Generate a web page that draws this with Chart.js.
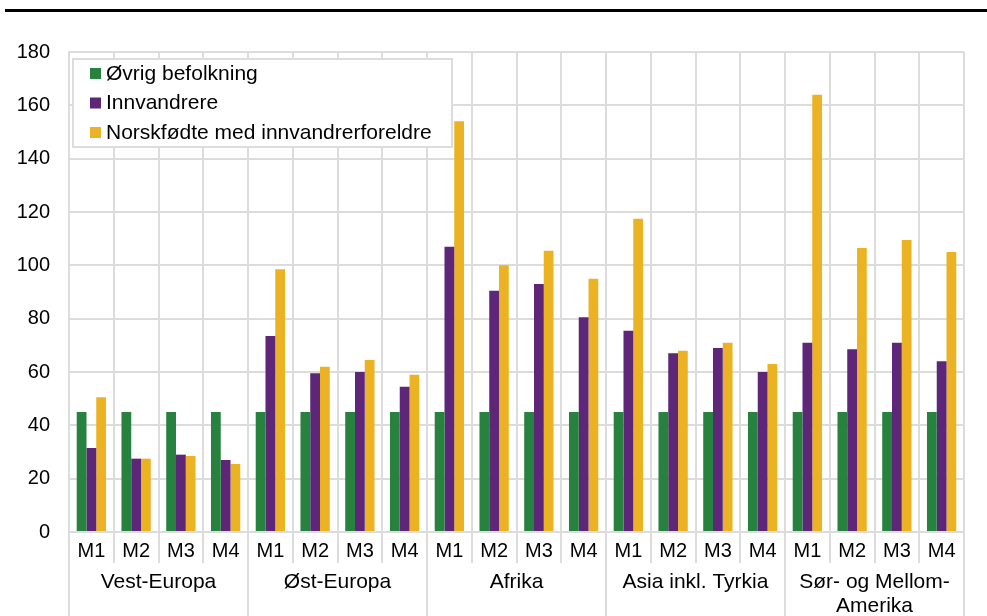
<!DOCTYPE html>
<html>
<head>
<meta charset="utf-8">
<script src="https://cdn.jsdelivr.net/npm/chart.js@4/dist/chart.umd.min.js"></script>
<style>
  html, body { margin: 0; padding: 0; background: #fff; }
  #wrap { width: 987px; height: 616px; position: relative; }
</style>
</head>
<body>
<div id="wrap"><canvas id="regionChart" width="987" height="616"></canvas></div>
<script>
const regions = ['Vest-Europa', 'Øst-Europa', 'Afrika', 'Asia inkl. Tyrkia', ['Sør- og Mellom-', 'Amerika']];
const measures = ['M1', 'M2', 'M3', 'M4'];
const seriesNames = ['Øvrig befolkning', 'Innvandrere', 'Norskfødte med innvandrerforeldre'];
const ovrig = [45, 45, 45, 45, 45, 45, 45, 45, 45, 45, 45, 45, 45, 45, 45, 45, 45, 45, 45, 45];
const innvandrere = [31.5, 27.5, 29, 27, 73.5, 59.5, 60, 54.5, 107, 90.5, 93, 80.5, 75.5, 67, 69, 60, 71, 68.5, 71, 64];
const norskfodte = [50.5, 27.5, 28.5, 25.5, 98.5, 62, 64.5, 59, 154, 100, 105.5, 95, 117.5, 68, 71, 63, 164, 106.5, 109.5, 105];
const yTicks = [0, 20, 40, 60, 80, 100, 120, 140, 160, 180];

const colors = ['#27813f', '#5e2678', '#ebb223'];
const gridColor = '#dcdcdc';
const font = '"Liberation Sans", Arial, sans-serif';

// one M1..M4 label per bar group, repeated for each region
const labels = [];
regions.forEach(() => measures.forEach((m) => labels.push(m)));

// group labels, separators below the axis, custom legend inside the plot
const extras = {
  id: 'extras',
  afterDraw(chart) {
    const ctx = chart.ctx;
    const x = chart.scales.x;
    const area = chart.chartArea;
    ctx.save();

    // heavy rule at the very top
    ctx.fillStyle = '#000';
    ctx.fillRect(5, 9, 982, 3);

    ctx.strokeStyle = gridColor;
    ctx.lineWidth = 2;
    for (let i = 0; i <= labels.length; i++) {
      const px = Math.round(x.getPixelForValue(i - 0.5));
      const groupEdge = i % measures.length === 0;
      ctx.beginPath();
      ctx.moveTo(px, area.bottom);
      ctx.lineTo(px, groupEdge ? 616 : 563);
      ctx.stroke();
    }

    ctx.fillStyle = '#000';
    ctx.font = '21px ' + font;
    ctx.textAlign = 'center';
    ctx.textBaseline = 'middle';
    regions.forEach((r, g) => {
      const cx = x.getPixelForValue(g * measures.length + (measures.length - 1) / 2);
      const lines = Array.isArray(r) ? r : [r];
      lines.forEach((t, k) => ctx.fillText(t, cx, 582 + k * 24));
    });

    // legend box
    ctx.fillStyle = '#fff';
    ctx.fillRect(73, 59, 379, 88);
    ctx.strokeStyle = gridColor;
    ctx.lineWidth = 2;
    ctx.strokeRect(73, 59, 379, 88);
    ctx.textAlign = 'left';
    chart.data.datasets.forEach((ds, k) => {
      const cy = 73 + k * 29.5;
      ctx.fillStyle = ds.backgroundColor;
      ctx.fillRect(90, cy - 5, 11, 11);
      ctx.fillStyle = '#000';
      ctx.fillText(ds.label, 106, cy + 1);
    });
    ctx.restore();
  }
};

const ctx = document.getElementById('regionChart').getContext('2d');
new Chart(ctx, {
  type: 'bar',
  data: {
    labels: labels,
    datasets: [ovrig, innvandrere, norskfodte].map((d, k) => ({
      label: seriesNames[k],
      data: d,
      backgroundColor: colors[k],
      borderWidth: 0,
      categoryPercentage: 0.655,
      barPercentage: 1
    }))
  },
  options: {
    responsive: false,
    animation: false,
    layout: { padding: { top: 52, right: 23, left: 0, bottom: 0 } },
    plugins: {
      legend: { display: false },
      tooltip: { enabled: false }
    },
    scales: {
      x: {
        grid: { offset: true, color: gridColor, lineWidth: 2, drawTicks: false },
        border: { color: gridColor, width: 2 },
        ticks: { color: '#000', font: { family: font, size: 20 }, padding: 7, maxRotation: 0, autoSkip: false },
        afterFit(scale) { scale.height = 84; }
      },
      y: {
        min: 0,
        max: 180,
        afterBuildTicks(scale) { scale.ticks = yTicks.map((v) => ({ value: v })); },
        grid: { color: gridColor, lineWidth: 2, drawTicks: false },
        border: { color: gridColor, width: 2 },
        ticks: { color: '#000', font: { family: font, size: 20 }, padding: 19 },
        afterFit(scale) { scale.width = 69; }
      }
    }
  },
  plugins: [extras]
});
</script>
</body>
</html>
